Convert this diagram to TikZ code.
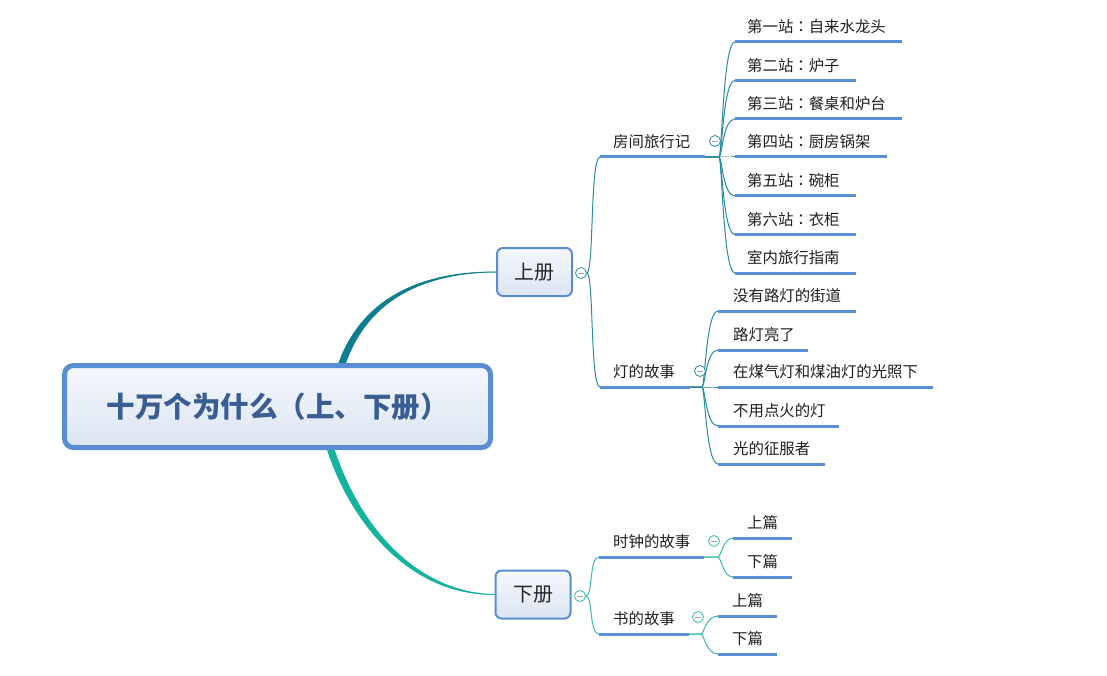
\documentclass[tikz,border=0pt]{standalone}
\usepackage{fontspec}
\setmainfont{Noto Sans CJK SC}
\newfontfamily\tcfont{Noto Sans CJK TC}
\usetikzlibrary{calc}
\definecolor{ublue}{HTML}{5B8FD5}
\definecolor{upcol}{HTML}{0E7D8F}
\definecolor{dncol}{HTML}{12B4A0}
\definecolor{uplink}{HTML}{2A8C9C}
\definecolor{dnlink}{HTML}{35BBAA}
\definecolor{rootborder}{HTML}{5A8ED3}
\definecolor{roottext}{HTML}{3A5E94}
\definecolor{boxtop}{HTML}{F4F7FC}
\definecolor{boxbot}{HTML}{DCE5F2}
\newcommand\mmtopic[6]{%
  \coordinate (#1-l) at (#2,#4);
  \coordinate (#1-r) at (#3,#4);
  \node[topictext] (#1) at (#5,#4-15) {#6};
  \draw[uline] (#1-l) -- (#1-r);
}
\newcommand\mmcolon{{\tcfont ：}}
\begin{document}
\begin{tikzpicture}[x=1pt,y=-1pt,
  topictext/.style={anchor=west, inner sep=0pt, font=\fontsize{15.4}{18}\selectfont, text=black!88},
  uline/.style={draw=ublue, line width=3pt},
  uplinkst/.style={draw=uplink, line width=1pt},
  dnlinkst/.style={draw=dnlink, line width=1pt},
  mmlink/.style n args={3}{to path={-- ($(\tikztostart)+(#1,0)$) .. controls ($(\tikztostart)+(#1+#2,0)$) and ($(\tikztotarget)+(-#3,0)$) .. (\tikztotarget)}},
  mmbtn/.style={circle, draw=#1, line width=0.8pt, fill=white, minimum size=11pt, inner sep=0pt,
    path picture={\draw[line width=0.9pt, gray!70] ([xshift=-3pt]path picture bounding box.center) -- ([xshift=3pt]path picture bounding box.center);}},
  mmbox/.style={draw=rootborder, line width=2pt, rounded corners=6pt, top color=boxtop, bottom color=boxbot,
    minimum width=75pt, minimum height=48pt, inner sep=0pt, font=\fontsize{20}{23}\selectfont, text=black!85},
  rootbox/.style={draw=rootborder, line width=5pt, rounded corners=9pt, top color=boxtop, bottom color=boxbot,
    minimum width=426pt, minimum height=82pt, inner sep=0pt, font=\fontsize{28.5}{32}\selectfont\bfseries, text=roottext}
]
\useasboundingbox (0,0) rectangle (1107,676);
\fill[white] (0,0) rectangle (1107,676);

% volume boxes
\node[mmbox] (up) at (534.5,272) {上册};
\node[mmbox] (down) at (533,594.5) {下册};

% main tapered curves
\coordinate (ru) at (332,410);
\coordinate (rd) at (320,405);
\fill[upcol] ($(ru)+(-3.8,0)$) .. controls (338,310) and (405,271) .. (up.west)
  .. controls (407,274) and (346,312) .. ($(ru)+(3.8,0)$) -- cycle;
\draw[upcol, line width=1pt] (ru) .. controls (342,310) and (405,272) .. (up.west);
\fill[dncol] ($(rd)+(-3.8,0)$) .. controls (331,502) and (400,597) .. (down.west)
  .. controls (400,591) and (339,498) .. ($(rd)+(3.8,0)$) -- cycle;
\draw[dncol, line width=1pt] (rd) .. controls (335,500) and (400,594) .. (down.west);

% root
\node[rootbox] (root) at (277.5,406.5) {十万个为什么（上、下册）};

% ---------- 上册 subtree ----------
\mmtopic{s1}{600}{705}{157}{613}{房间旅行记}
\mmtopic{s2}{600}{690}{387}{613}{灯的故事}

\mmtopic{a1}{735}{902}{42}{747}{第一站\mmcolon 自来水龙头}
\mmtopic{a2}{735}{856}{80.5}{747}{第二站\mmcolon 炉子}
\mmtopic{a3}{735}{902}{119}{747}{第三站\mmcolon 餐桌和炉台}
\mmtopic{a4}{735}{887}{157}{747}{第四站\mmcolon 厨房锅架}
\mmtopic{a5}{735}{856}{196}{747}{第五站\mmcolon 碗柜}
\mmtopic{a6}{735}{856}{234.5}{747}{第六站\mmcolon 衣柜}
\mmtopic{a7}{735}{856}{273}{747}{室内旅行指南}

\mmtopic{b1}{718}{856}{311}{733}{没有路灯的街道}
\mmtopic{b2}{718}{808}{350}{733}{路灯亮了}
\mmtopic{b3}{718}{933}{387}{733}{在煤气灯和煤油灯的光照下}
\mmtopic{b4}{718}{839}{426}{733}{不用点火的灯}
\mmtopic{b5}{718}{825}{464}{733}{光的征服者}

\node[mmbtn=uplink] (upc) at (581,273) {};
\draw[uplinkst] (upc.east) to[mmlink={0}{7}{10}] (s1-l);
\draw[uplinkst] (upc.east) to[mmlink={0}{7}{10}] (s2-l);
\foreach \n in {a1,a2,a3,a4,a5,a6,a7}
  \draw[uplinkst] (s1-r) to[mmlink={14}{3}{12}] (\n-l);
\foreach \n in {b1,b2,b3,b4,b5}
  \draw[uplinkst] (s2-r) to[mmlink={12}{3}{12}] (\n-l);
\node[mmbtn=uplink] (s1c) at (715,141) {};
\node[mmbtn=uplink] (s2c) at (700,371) {};

% ---------- 下册 subtree ----------
\mmtopic{s3}{599}{704}{557}{613}{时钟的故事}
\mmtopic{s4}{599}{689}{634}{613}{书的故事}
\mmtopic{c1}{733}{792}{538}{747}{上篇}
\mmtopic{c2}{733}{792}{577}{747}{下篇}
\mmtopic{d1}{718}{777}{616}{732}{上篇}
\mmtopic{d2}{718}{777}{654}{732}{下篇}

\node[mmbtn=dnlink] (dnc) at (580,596) {};
\draw[dnlinkst] (dnc.east) to[mmlink={0}{7}{10}] (s3-l);
\draw[dnlinkst] (dnc.east) to[mmlink={0}{7}{10}] (s4-l);
\foreach \n in {c1,c2}
  \draw[dnlinkst] (s3-r) to[mmlink={14}{3}{10}] (\n-l);
\foreach \n in {d1,d2}
  \draw[dnlinkst] (s4-r) to[mmlink={12}{3}{12}] (\n-l);
\node[mmbtn=dnlink] (s3c) at (714,541) {};
\node[mmbtn=dnlink] (s4c) at (698,617) {};
\end{tikzpicture}
\end{document}
